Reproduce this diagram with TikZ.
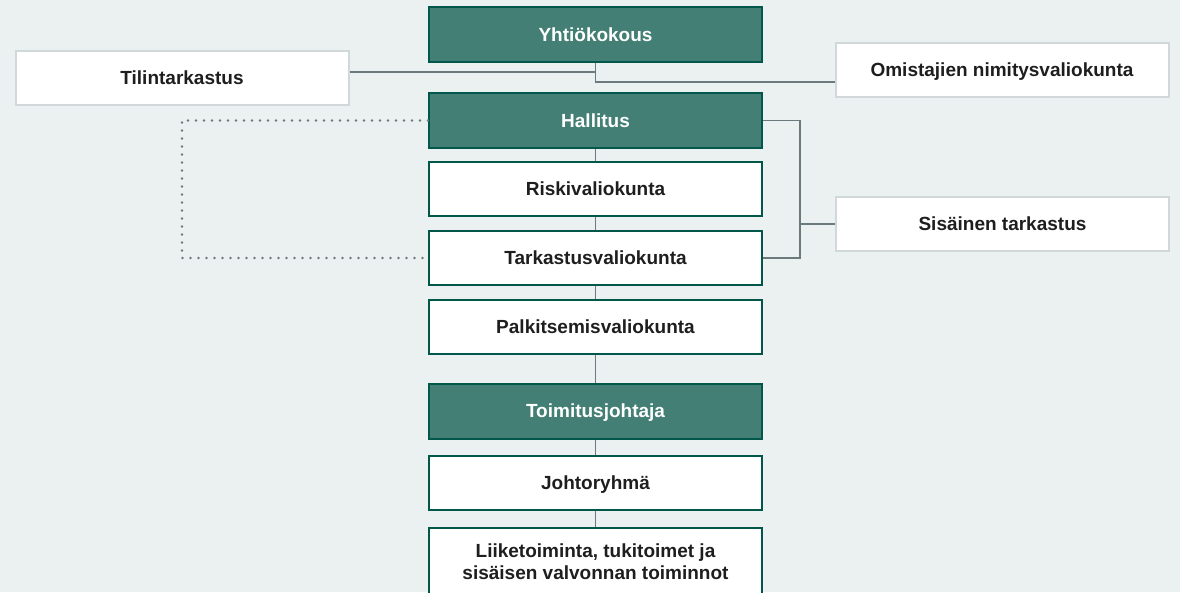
\documentclass[tikz,border=0pt]{standalone}
\usepackage{fontspec}
\setmainfont{Liberation Sans}
\definecolor{bggray}{HTML}{EBF0F0}
\definecolor{boardgreen}{HTML}{437F74}
\definecolor{darkgreen}{HTML}{00574A}
\definecolor{linegray}{HTML}{6B7A7C}
\definecolor{sidegray}{HTML}{D0D8DA}
\definecolor{textdark}{HTML}{1E1E1E}

\begin{document}
\begin{tikzpicture}[
  x=1pt, y=-1pt,
  every node/.style={font=\fontsize{19}{22}\selectfont\bfseries, align=center, text height=13.6pt, text depth=0pt},
  organ/.style={rectangle, fill=boardgreen, text=white, minimum width=333pt, minimum height=55pt, draw=darkgreen, line width=2pt},
  committee/.style={rectangle, fill=white, text=textdark, minimum width=333pt, minimum height=54pt, draw=darkgreen, line width=2pt},
  outside/.style={rectangle, fill=white, text=textdark, minimum width=333pt, minimum height=54pt, draw=sidegray, line width=2pt},
  link/.style={draw=linegray, line width=1.3pt},
  auditlink/.style={draw=linegray, line width=2.6pt, line cap=round, dash pattern=on 0pt off 8pt},
]

% ---- canvas ----
\fill[bggray] (0,0) rectangle (1180,592);
\useasboundingbox (0,0) rectangle (1180,592);

% ---- governing bodies ----
\node[organ] (yhtio)    at (595.5, 34.5) {Yhtiökokous};
\node[organ] (hallitus) at (595.5, 120.5) {Hallitus};

% ---- board committees ----
\node[committee] (riski)     at (595.5, 189) {Riskivaliokunta};
\node[committee] (tarkastus) at (595.5, 258) {Tarkastusvaliokunta};
\node[committee] (palkitsem) at (595.5, 327) {Palkitsemisvaliokunta};

% ---- management ----
\node[organ]     (toimitus) at (595.5, 411) {Toimitusjohtaja};
\node[committee] (johto)    at (595.5, 483) {Johtoryhmä};
\node[committee, minimum height=68pt, text height={}, text depth={}] (liike) at (595.5, 562)
  {Liiketoiminta, tukitoimet ja\\sisäisen valvonnan toiminnot};

% ---- side boxes ----
\node[outside] (tilin)    at (182, 78)     {Tilintarkastus};
\node[outside] (omist)    at (1002, 70)    {Omistajien nimitysvaliokunta};
\node[outside] (sisainen) at (1002.5, 224) {Sisäinen tarkastus};

% ---- junctions ----
\coordinate (ta) at (595.5, 72);
\coordinate (yk) at (595.5, 82);
\coordinate (sx) at (800, 224);
\coordinate (dx) at (182, 258);

% ---- connectors ----
\draw[link] (ta -| tilin.east) -- (ta);
\draw[link] (yhtio.south) -- (yk) -- (yk -| omist.west);
\draw[link] (hallitus.east) -| (sx |- tarkastus.east) -- (tarkastus.east);
\draw[link] (sx) -- (sisainen.west);
\draw[auditlink] (hallitus.west) -| (dx) -- (tarkastus.west);

\draw[link] (hallitus.south)  -- (riski.north);
\draw[link] (riski.south)     -- (tarkastus.north);
\draw[link] (tarkastus.south) -- (palkitsem.north);
\draw[link] (palkitsem.south) -- (toimitus.north);
\draw[link] (toimitus.south)  -- (johto.north);
\draw[link] (johto.south)     -- (liike.north);

\end{tikzpicture}
\end{document}
